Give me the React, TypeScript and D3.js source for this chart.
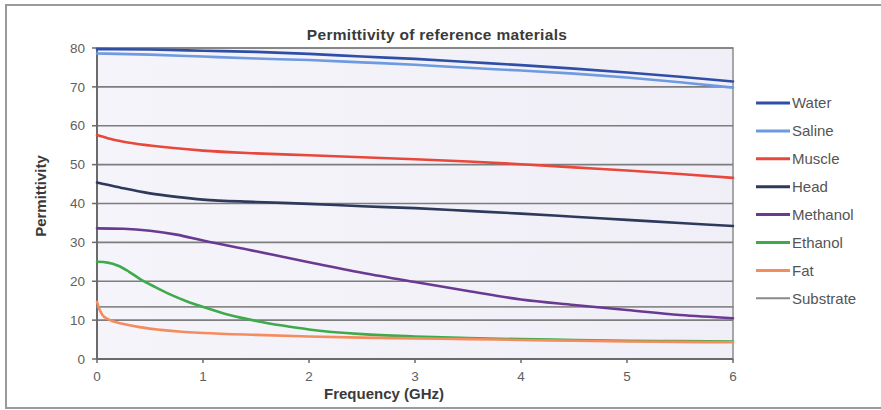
import React from "react";
import * as d3 from "d3";

// Frequency samples (GHz) and permittivity values per material
const freqCoarse = [0, 0.5, 1, 1.5, 2, 2.5, 3, 3.5, 4, 4.5, 5, 5.5, 6];
const water = [79.7, 79.6, 79.3, 79.0, 78.5, 77.8, 77.2, 76.4, 75.6, 74.7, 73.7, 72.6, 71.4];
const saline = [78.6, 78.3, 77.8, 77.3, 76.9, 76.3, 75.7, 74.9, 74.2, 73.4, 72.4, 71.2, 69.8];

const freqMuscle = [0, 0.1, 0.25, 0.5, 1, 1.5, 2, 2.5, 3, 3.5, 4, 4.5, 5, 5.5, 6];
const muscle = [57.6, 56.8, 55.9, 54.9, 53.6, 52.9, 52.4, 51.9, 51.4, 50.8, 50.1, 49.3, 48.5, 47.6, 46.6];

const freqHead = [0, 0.1, 0.25, 0.5, 0.75, 1, 1.5, 2, 2.5, 3, 3.5, 4, 4.5, 5, 5.5, 6];
const head = [45.4, 44.8, 43.9, 42.6, 41.7, 41.0, 40.4, 39.9, 39.3, 38.8, 38.1, 37.4, 36.6, 35.8, 35.0, 34.2];

const freqMethanol = [0, 0.25, 0.5, 0.75, 1, 1.5, 2, 2.5, 3, 3.5, 4, 4.5, 5, 5.5, 6];
const methanol = [33.6, 33.5, 33.0, 32.0, 30.5, 27.7, 24.9, 22.2, 19.8, 17.5, 15.3, 13.9, 12.6, 11.3, 10.5];

const freqEthanol = [0, 0.1, 0.2, 0.3, 0.4, 0.55, 0.7, 0.85, 1, 1.25, 1.5, 1.75, 2, 2.5, 3, 3.5, 4, 4.5, 5, 5.5, 6];
const ethanol = [25.0, 24.8, 24.0, 22.5, 20.7, 18.5, 16.5, 14.8, 13.4, 11.3, 9.8, 8.6, 7.6, 6.4, 5.8, 5.4, 5.1, 4.9, 4.7, 4.6, 4.5];

const freqFat = [0, 0.02, 0.05, 0.1, 0.15, 0.25, 0.4, 0.6, 0.8, 1, 1.5, 2, 2.5, 3, 3.5, 4, 4.5, 5, 5.5, 6];
const fat = [14.7, 13.0, 11.4, 10.3, 9.7, 9.0, 8.2, 7.5, 7.0, 6.7, 6.2, 5.8, 5.5, 5.3, 5.1, 4.9, 4.7, 4.5, 4.4, 4.3];

const freqSubstrate = [0, 6];
const substrate = [13.4, 13.4];

const seriesNames = ["Water", "Saline", "Muscle", "Head", "Methanol", "Ethanol", "Fat", "Substrate"];
const seriesColors = ["#2f4fa6", "#6d9ae0", "#e8473b", "#2e3a5c", "#6a3a92", "#3faa4c", "#f58c5e", "#8a8a8a"];

const xTicks = [0, 1, 2, 3, 4, 5, 6];
const yTicks = [0, 10, 20, 30, 40, 50, 60, 70, 80];

const W = 881;
const H = 410;
const plot = { left: 97, right: 733, top: 48, bottom: 359 };

export default function App() {
  const x = d3.scaleLinear().domain([0, 6]).range([plot.left, plot.right]);
  const y = d3.scaleLinear().domain([0, 80]).range([plot.bottom, plot.top]);

  const series = [
    { f: freqCoarse, v: water },
    { f: freqCoarse, v: saline },
    { f: freqMuscle, v: muscle },
    { f: freqHead, v: head },
    { f: freqMethanol, v: methanol },
    { f: freqEthanol, v: ethanol },
    { f: freqFat, v: fat },
    { f: freqSubstrate, v: substrate },
  ];

  const line = d3
    .line<[number, number]>()
    .x((d) => x(d[0]))
    .y((d) => y(d[1]))
    .curve(d3.curveMonotoneX);

  // Substrate is drawn first so the material curves sit on top of it
  const drawOrder = [7, 0, 1, 2, 3, 4, 5, 6];

  const font = "'Liberation Sans', Arial, sans-serif";

  return (
    <svg
      width={W}
      height={H}
      viewBox={`0 0 ${W} ${H}`}
      style={{ position: "absolute", left: 0, top: 0, display: "block", background: "#ffffff" }}
      fontFamily={font}
    >
      <defs>
        <linearGradient id="plotBg" x1="0" y1="0" x2="1" y2="0">
          <stop offset="0" stopColor="#f5f4fa" />
          <stop offset="1" stopColor="#f0eff7" />
        </linearGradient>
      </defs>

      {/* outer frame */}
      <path d={`M${W},5 L6,5 L6,408 L${W},408`} fill="none" stroke="#9a9a9a" strokeWidth={2} />

      {/* plot area */}
      <rect
        x={plot.left}
        y={plot.top}
        width={plot.right - plot.left}
        height={plot.bottom - plot.top}
        fill="url(#plotBg)"
        stroke="#8c8c8c"
        strokeWidth={1.5}
      />

      {/* horizontal gridlines */}
      {yTicks.slice(1).map((t) => (
        <line key={t} x1={plot.left} x2={plot.right} y1={y(t)} y2={y(t)} stroke="#7d7d7d" strokeWidth={1.6} />
      ))}

      {/* axes */}
      <line x1={plot.left} x2={plot.left} y1={plot.top} y2={plot.bottom} stroke="#6a6a6a" strokeWidth={2} />
      <line x1={plot.left} x2={plot.right} y1={plot.bottom} y2={plot.bottom} stroke="#6a6a6a" strokeWidth={2} />

      {yTicks.map((t) => (
        <g key={t}>
          <line x1={plot.left - 5} x2={plot.left} y1={y(t)} y2={y(t)} stroke="#6a6a6a" strokeWidth={1.5} />
          <text x={85} y={y(t)} dy="0.35em" textAnchor="end" fontSize={13.5} fill="#606060">
            {t}
          </text>
        </g>
      ))}

      {xTicks.map((t) => (
        <g key={t}>
          <line x1={x(t)} x2={x(t)} y1={plot.bottom} y2={plot.bottom + 4} stroke="#6a6a6a" strokeWidth={1.5} />
          <text x={x(t)} y={381} textAnchor="middle" fontSize={13.5} fill="#606060">
            {t}
          </text>
        </g>
      ))}

      {/* data lines */}
      {drawOrder.map((i) => {
        const s = series[i];
        const pts = s.f.map((f, j) => [f, s.v[j]] as [number, number]);
        return (
          <path
            key={seriesNames[i]}
            d={line(pts) ?? ""}
            fill="none"
            stroke={seriesColors[i]}
            strokeWidth={i === 7 ? 1.8 : 2.6}
            strokeLinejoin="round"
            strokeLinecap="round"
          />
        );
      })}

      {/* titles */}
      <text x={437} y={40} textAnchor="middle" fontSize={15.5} fontWeight="bold" letterSpacing={0.3} fill="#3a3a3a">
        Permittivity of reference materials
      </text>
      <text x={384} y={399} textAnchor="middle" fontSize={15} fontWeight="bold" fill="#3a3a3a">
        Frequency (GHz)
      </text>
      <text
        transform={`translate(46,196) rotate(-90)`}
        textAnchor="middle"
        fontSize={15}
        fontWeight="bold"
        fill="#3a3a3a"
      >
        Permittivity
      </text>

      {/* legend */}
      {seriesNames.map((name, i) => {
        const ly = 103 + i * 27.9;
        return (
          <g key={name}>
            <line x1={756} x2={790} y1={ly} y2={ly} stroke={seriesColors[i]} strokeWidth={i === 7 ? 2 : 3} />
            <text x={792} y={ly} dy="0.35em" fontSize={15} fill="#555555">
              {name}
            </text>
          </g>
        );
      })}
    </svg>
  );
}
